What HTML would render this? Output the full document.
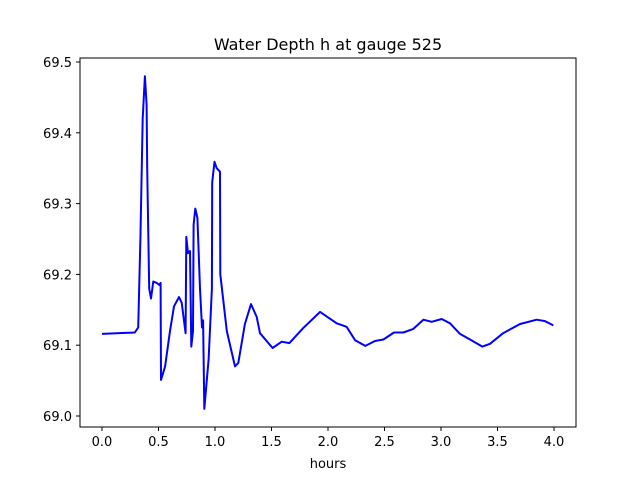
<!DOCTYPE html>
<html><head><meta charset="utf-8"><style>
body{margin:0;background:#fff;}
svg text{font-family:"DejaVu Sans","Liberation Sans",sans-serif;fill:#000;}
</style></head><body>
<svg id="chart" width="640" height="480" xmlns="http://www.w3.org/2000/svg">
<rect width="640" height="480" fill="#fff"/>
<text x="328" y="50" font-size="16" text-anchor="middle">Water Depth h at gauge 525</text>
<g id="xticks"></g>
<g id="yticks"></g>
<polyline id="series" fill="none" stroke="#0000ff" stroke-width="2" stroke-linejoin="round"/>
<rect x="80" y="58" width="496" height="369" fill="none" stroke="#000" stroke-width="1"/>
<text x="328" y="468" font-size="13" text-anchor="middle">hours</text>
</svg>
<script>
const hours=[0,0.29,0.32,0.34,0.36,0.38,0.395,0.4,0.418,0.434,0.454,0.484,0.507,0.519,0.522,0.558,0.602,0.637,0.681,0.705,0.74,0.746,0.761,0.779,0.79,0.805,0.811,0.826,0.844,0.867,0.885,0.895,0.905,0.943,0.973,0.975,0.996,1.015,1.044,1.047,1.104,1.177,1.206,1.265,1.319,1.369,1.398,1.51,1.59,1.658,1.78,1.93,2.077,2.165,2.24,2.33,2.416,2.49,2.584,2.667,2.755,2.844,2.918,3.006,3.08,3.168,3.257,3.366,3.434,3.55,3.7,3.847,3.92,3.994];
const depth=[69.116,69.118,69.125,69.25,69.42,69.48,69.44,69.35,69.18,69.166,69.19,69.188,69.185,69.188,69.051,69.07,69.12,69.155,69.168,69.16,69.117,69.253,69.23,69.233,69.098,69.12,69.27,69.293,69.28,69.18,69.125,69.135,69.01,69.08,69.18,69.33,69.359,69.35,69.345,69.2,69.12,69.07,69.075,69.13,69.158,69.14,69.117,69.096,69.105,69.103,69.124,69.147,69.131,69.126,69.107,69.099,69.106,69.108,69.118,69.118,69.123,69.136,69.133,69.137,69.131,69.116,69.108,69.098,69.102,69.117,69.13,69.136,69.134,69.128];
const xTickLabels=["0.0","0.5","1.0","1.5","2.0","2.5","3.0","3.5","4.0"];
const yTickLabels=["69.0","69.1","69.2","69.3","69.4","69.5"];
const X=t=>102+t*113;
const Y=v=>416-(v-69)*708;
const ns="http://www.w3.org/2000/svg";
document.getElementById('series').setAttribute('points',hours.map((t,i)=>X(t).toFixed(1)+','+Y(depth[i]).toFixed(1)).join(' '));
const xg=document.getElementById('xticks');
xTickLabels.forEach(l=>{const x=X(parseFloat(l));
const ln=document.createElementNS(ns,'line');


ln.setAttribute('x1',x);ln.setAttribute('x2',x);ln.setAttribute('y1',427);ln.setAttribute('y2',431);ln.setAttribute('stroke','#000');xg.appendChild(ln);
const tx=document.createElementNS(ns,'text');


tx.setAttribute('x',x);tx.setAttribute('y',446);tx.setAttribute('font-size','13');tx.setAttribute('text-anchor','middle');tx.textContent=l;xg.appendChild(tx);});
const yg=document.getElementById('yticks');
yTickLabels.forEach(l=>{const y=Y(parseFloat(l));
const ln=document.createElementNS(ns,'line');


ln.setAttribute('x1',76);ln.setAttribute('x2',80);ln.setAttribute('y1',y);ln.setAttribute('y2',y);ln.setAttribute('stroke','#000');yg.appendChild(ln);
const tx=document.createElementNS(ns,'text');


tx.setAttribute('x',72);tx.setAttribute('y',y+5);tx.setAttribute('font-size','13');tx.setAttribute('text-anchor','end');tx.textContent=l;yg.appendChild(tx);});
</script>
</body></html>
